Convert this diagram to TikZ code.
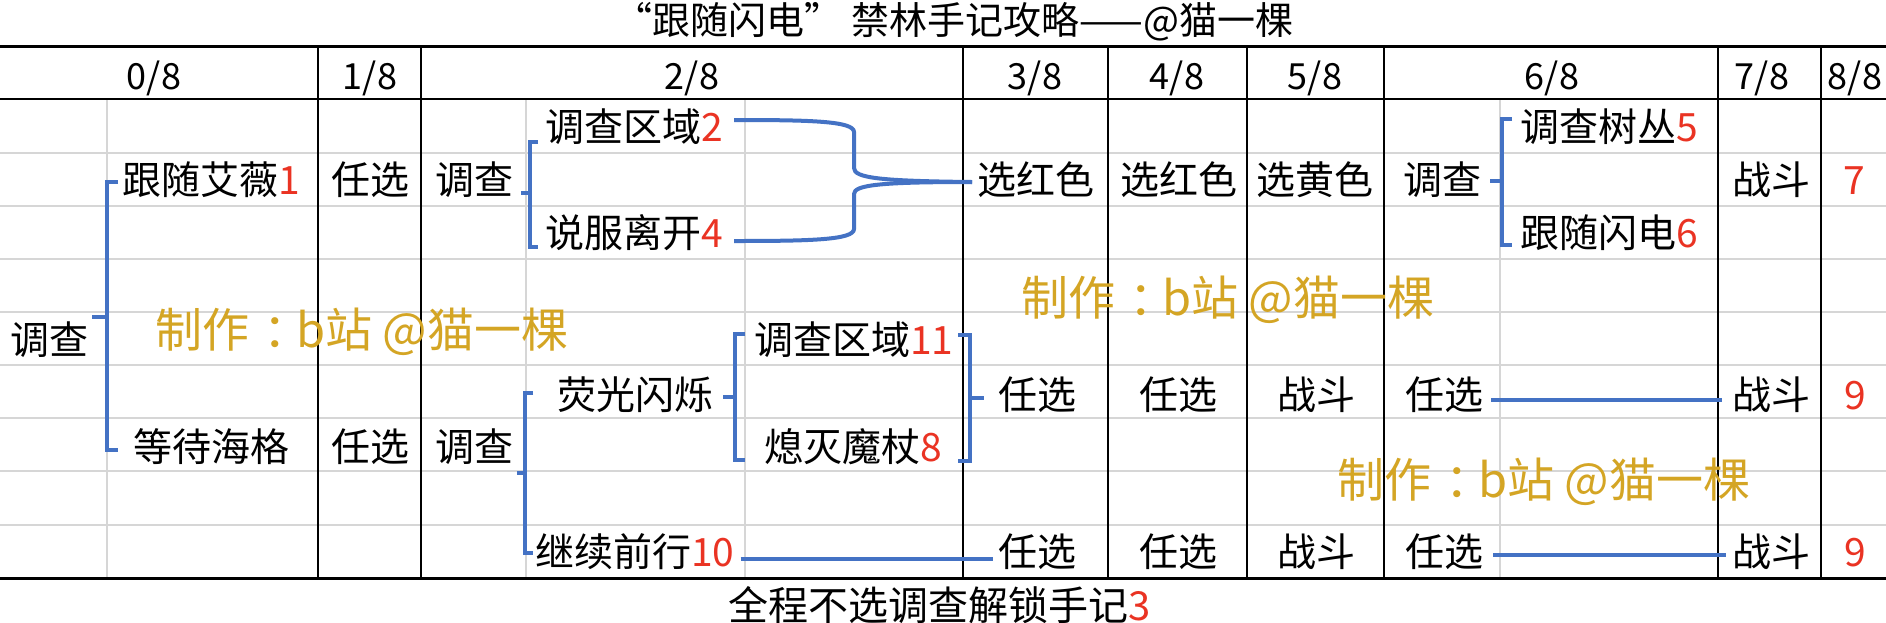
\documentclass[tikz,border=0pt]{standalone}
\usepackage{fontspec}
\setmainfont{Noto Sans CJK SC}
\definecolor{linkblue}{RGB}{68,114,196}
\definecolor{numred}{RGB}{234,51,35}
\definecolor{wmgold}{RGB}{212,165,36}
\definecolor{gridgray}{RGB}{214,214,214}
\newcommand{\rednum}[1]{\textcolor{numred}{#1}}
\begin{document}
\begin{tikzpicture}[x=1pt,y=-1pt,
  cell/.style={inner sep=0pt, text height=34.3pt, text depth=4.7pt, font=\fontsize{39}{40}\selectfont},
  hdr/.style={inner sep=0pt, text height=31.7pt, text depth=4.3pt, font=\fontsize{36}{38}\selectfont},
  ttl/.style={inner sep=0pt, text height=33.4pt, text depth=4.6pt, font=\fontsize{38}{40}\selectfont},
  ftr/.style={inner sep=0pt, text height=35.2pt, text depth=4.8pt, font=\fontsize{40}{42}\selectfont},
  wm/.style={inner sep=0pt, anchor=west, text=wmgold, text height=41.4pt, text depth=5.6pt, font=\fontsize{47}{48}\selectfont},
  link/.style={draw=linkblue, line width=4pt},
  gline/.style={draw=gridgray, line width=2pt},
  bline/.style={draw=black, line width=2pt}]
\useasboundingbox (0,0) rectangle (1886,622);
\fill[white] (0,0) rectangle (1886,622);
% grid
\foreach \yy in {152.7,205.7,258.6,312,365,418,471,524.5}
  \draw[gline] (0,\yy) -- (1886,\yy);
\foreach \xx in {107,526,745,1500}
  \draw[gline] (\xx,99) -- (\xx,578);
\foreach \xx in {317.5,421,963,1108,1247,1384,1718,1821}
  \draw[bline] (\xx,46.7) -- (\xx,578);
\draw[black, line width=2.5pt] (0,46.7) -- (1886,46.7);
\draw[bline] (0,99) -- (1886,99);
\draw[black, line width=3pt] (0,578) -- (1886,578);
% title and footer
\node[ttl] (title) at (954,20) {“跟随闪电” 禁林手记攻略——@猫一棵};
\node[ftr, anchor=west] (foot) at (728,605) {全程不选调查解锁手记\rednum{3}};
% header
\node[hdr] (h0) at (154,76) {0/8};
\node[hdr] (h1) at (370,76) {1/8};
\node[hdr] (h2) at (692,76) {2/8};
\node[hdr] (h3) at (1035,76) {3/8};
\node[hdr] (h4) at (1177,76) {4/8};
\node[hdr] (h5) at (1315,76) {5/8};
\node[hdr] (h6) at (1552,76) {6/8};
\node[hdr] (h7) at (1762,76) {7/8};
\node[hdr] (h8) at (1855,76) {8/8};
% row 1
\node[cell, anchor=west] (a2) at (545,127) {调查区域\rednum{2}};
\node[cell, anchor=west] (a5) at (1520,127) {调查树丛\rednum{5}};
% row 2
\node[cell, anchor=west] (a1) at (122,180) {跟随艾薇\rednum{1}};
\node[cell] (r2c1) at (370,180) {任选};
\node[cell, anchor=west] (r2c2) at (435,180) {调查};
\node[cell, anchor=west] (r2c3) at (977,180) {选红色};
\node[cell, anchor=west] (r2c4) at (1120,180) {选红色};
\node[cell, anchor=west] (r2c5) at (1256,180) {选黄色};
\node[cell, anchor=west] (r2c6) at (1403,180) {调查};
\node[cell, anchor=west] (r2c7) at (1732,180) {战斗};
\node[cell] (r2c8) at (1854,180) {\rednum{7}};
% row 3
\node[cell, anchor=west] (a4) at (545,233) {说服离开\rednum{4}};
\node[cell, anchor=west] (a6) at (1520,233) {跟随闪电\rednum{6}};
% row 5
\node[cell, anchor=west] (root) at (10,340) {调查};
\node[cell, anchor=west] (a11) at (754,340) {调查区域\rednum{11}};
% row 6
\node[cell, anchor=west] (yg) at (557,395) {荧光闪烁};
\node[cell, anchor=west] (r6c3) at (998,395) {任选};
\node[cell, anchor=west] (r6c4) at (1139,395) {任选};
\node[cell, anchor=west] (r6c5) at (1277,395) {战斗};
\node[cell, anchor=west] (r6c6) at (1405,395) {任选};
\node[cell, anchor=west] (r6c7) at (1732,395) {战斗};
\node[cell] (r6c8) at (1855,395) {\rednum{9}};
% row 7
\node[cell, anchor=west] (dd) at (133,447) {等待海格};
\node[cell] (r7c1) at (370,447) {任选};
\node[cell, anchor=west] (r7c2) at (435,447) {调查};
\node[cell, anchor=west] (a8) at (764,447) {熄灭魔杖\rednum{8}};
% row 9
\node[cell, anchor=west] (a10) at (535,552) {继续前行\rednum{10}};
\node[cell, anchor=west] (r9c3) at (998,552) {任选};
\node[cell, anchor=west] (r9c4) at (1139,552) {任选};
\node[cell, anchor=west] (r9c5) at (1277,552) {战斗};
\node[cell, anchor=west] (r9c6) at (1405,552) {任选};
\node[cell, anchor=west] (r9c7) at (1732,552) {战斗};
\node[cell] (r9c8) at (1855,552) {\rednum{9}};
% brackets
\draw[link] (118,182) -- (107,182) -- (107,450) -- (118,450);
\draw[link] (107,317) -- (92,317);
\draw[link] (538,142) -- (530,142) -- (530,247) -- (538,247);
\draw[link] (530,193) -- (521,193);
\draw[link] (1512,119) -- (1502,119) -- (1502,245) -- (1512,245);
\draw[link] (1502,181) -- (1490,181);
\draw[link] (533,393) -- (525,393) -- (525,553) -- (533,553);
\draw[link] (525,473) -- (517,473);
\draw[link] (745,334) -- (735,334) -- (735,460) -- (745,460);
\draw[link] (735,397) -- (723,397);
\draw[link] (958,335) -- (970,335) -- (970,461) -- (958,461);
\draw[link] (970,398) -- (984,398);
% merging curve
\draw[link] ([shift={(11,-7)}]a2.east) .. controls (810,120) and (854,121) .. (854,132) -- (854,168) .. controls (854,178) and (880,181) .. ([shift={(-5,2)}]r2c3.west);
\draw[link] ([shift={(11,8)}]a4.east) .. controls (810,241) and (854,240) .. (854,229) -- (854,194) .. controls (854,185) and (880,182) .. ([shift={(-5,2)}]r2c3.west);
% straight links
\draw[link] ([shift={(6,7)}]a10.east) -- ([shift={(-5,7)}]r9c3.west);
\draw[link] ([shift={(8,5)}]r6c6.east) -- ([shift={(-10,5)}]r6c7.west);
\draw[link] ([shift={(10,3)}]r9c6.east) -- ([shift={(-6,3)}]r9c7.west);
% watermarks
\node[wm] (wm1) at (155,330) {制作\kern14pt：\kern-14pt b站 @猫一棵};
\node[wm] (wm2) at (1021,298) {制作\kern14pt：\kern-14pt b站 @猫一棵};
\node[wm] (wm3) at (1337,480) {制作\kern14pt：\kern-14pt b站 @猫一棵};
\end{tikzpicture}
\end{document}
